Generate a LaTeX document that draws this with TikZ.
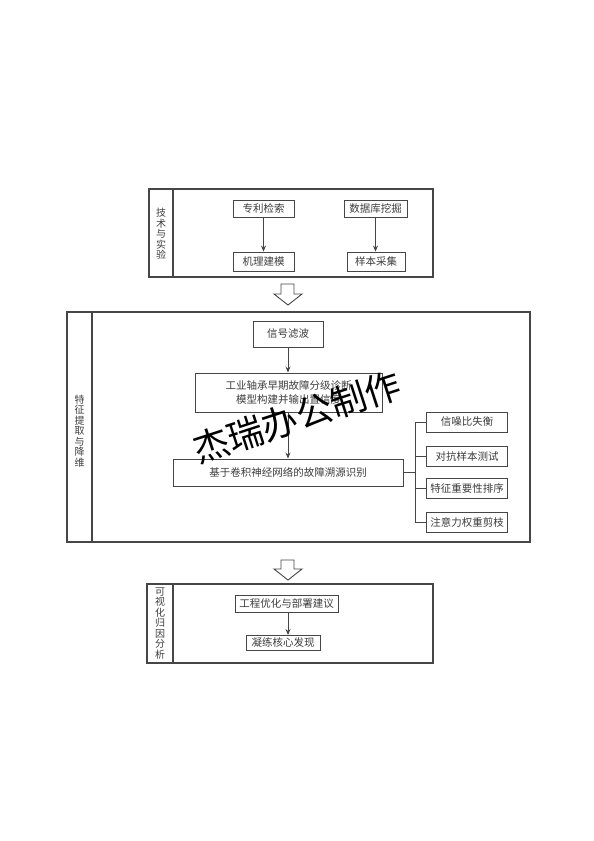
\documentclass[tikz,border=0pt]{standalone}
\usepackage{fontspec}
\setmainfont{Noto Sans CJK SC}
\usepackage{tikz}
\usetikzlibrary{arrows.meta, positioning, calc}
\usepackage{xcolor}
\definecolor{linegray}{RGB}{70,70,70}
\definecolor{textgray}{RGB}{60,60,60}

\begin{document}
\begin{tikzpicture}[x=1pt, y=-1pt,
  box/.style={draw=linegray, line width=0.9pt, inner sep=0pt, text=textgray, font=\fontsize{10.5}{14}\selectfont, align=center},
  frame/.style={draw=linegray, line width=1.1pt},
  sidelabel/.style={text=textgray, font=\fontsize{10}{10.5}\selectfont, align=center, inner sep=0pt},
  flow/.style={draw=linegray, line width=0.9pt, -{Stealth[length=6pt, width=5pt]}},
  branch/.style={draw=linegray, line width=0.9pt},
  hollow/.style={draw=linegray, line width=0.9pt, fill=white},
  stamp/.style={font=\fontsize{36}{36}\selectfont, text=black, rotate=18, inner sep=0pt},
]
\useasboundingbox (0,0) rectangle (594,841);

% Technology and experiment
\draw[frame] (149,189) rectangle (433,277);
\draw[frame] (173,189) -- (173,277);
\node[sidelabel] (lab1) at (161,234) {技\\术\\与\\实\\验};

\node[box, minimum width=61, minimum height=17] (patent) at (263.5,208.5) {专利检索};
\node[box, minimum width=63, minimum height=17] (dbmine) at (375.5,208.5) {数据库挖掘};
\node[box, minimum width=61, minimum height=19] (mechmodel) at (263.5,261.5) {机理建模};
\node[box, minimum width=58, minimum height=19] (sampling) at (376,261.5) {样本采集};
\draw[flow] (patent) -- (mechmodel);
\draw[flow] (dbmine) -- (dbmine |- sampling.north);

% Block arrow 1
\draw[hollow] (281,284) -- (294,284) -- (294,294) -- (302,294) -- (288,305) -- (274,294) -- (281,294) -- cycle;

% Feature extraction and reduction
\draw[frame] (67,312) rectangle (530,542);
\draw[frame] (92,312) -- (92,542);
\node[sidelabel] (lab2) at (79.5,431) {特\\征\\提\\取\\与\\降\\维};

\node[box, minimum width=70, minimum height=26] (filter) at (288,334) {信号滤波};
\node[box, minimum width=187, minimum height=39] (diagnose) at (288.5,392.5) {工业轴承早期故障分级诊断\\模型构建并输出置信度};
\node[box, minimum width=230, minimum height=27] (tracing) at (288,472.5) {基于卷积神经网络的故障溯源识别};
\draw[flow] (filter) -- (filter |- diagnose.north);
\draw[flow] (diagnose.south -| filter) -- (filter |- tracing.north);

% Branches to the right
\node[box, minimum width=81, minimum height=20] (snr) at (467,422) {信噪比失衡};
\node[box, minimum width=81, minimum height=20] (adv) at (467,456) {对抗样本测试};
\node[box, minimum width=81, minimum height=20] (featrank) at (467,488.5) {特征重要性排序};
\node[box, minimum width=81, minimum height=20] (prune) at (467,522) {注意力权重剪枝};
\coordinate (fork) at (415,472.5);
\draw[branch] (tracing.east) -- (fork);
\foreach \b in {snr, adv, featrank, prune}
  \draw[branch] (fork) |- (\b.west);

% Block arrow 2
\draw[hollow] (281,560) -- (294,560) -- (294,569) -- (302,569) -- (288,580) -- (274,569) -- (281,569) -- cycle;

% Visual attribution analysis
\draw[frame] (147,584) rectangle (433,663);
\draw[frame] (173,584) -- (173,663);
\node[sidelabel] (lab3) at (160,623.5) {可\\视\\化\\归\\因\\分\\析};

\node[box, minimum width=103, minimum height=17] (deploy) at (286.5,603.5) {工程优化与部署建议};
\node[box, minimum width=74, minimum height=15] (findings) at (283,642.5) {凝练核心发现};
\draw[flow] (288,612) -- (288,635);

% Watermark
\node[stamp] (mark) at (297,417) {杰瑞办公制作};
\end{tikzpicture}
\end{document}
